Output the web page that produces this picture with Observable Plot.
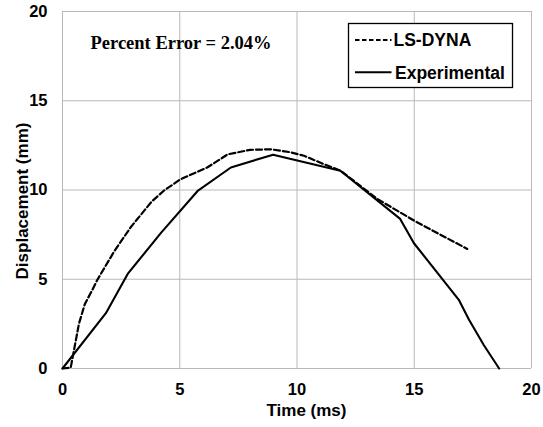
<!DOCTYPE html>
<html>
<head>
<meta charset="utf-8">
<script src="https://cdn.jsdelivr.net/npm/d3@7"></script>
<script src="https://cdn.jsdelivr.net/npm/@observablehq/plot@0.6"></script>
<style>
  html, body { margin: 0; padding: 0; background: #fff; }
  #wrap { position: relative; width: 543px; height: 427px; }
  #legend { position: absolute; left: 0; top: 0; pointer-events: none; }
</style>
</head>
<body>
<div id="wrap"></div>
<script>
// ---- data ----
const expTime = [0, 1.85, 2.78, 4.2, 5.78, 7.18, 8.98, 11.85, 14.4, 14.98, 16.9, 17.33, 17.97, 18.62];
const expDisp = [0, 3.1, 5.3, 7.6, 9.97, 11.26, 11.98, 11.08, 8.38, 7.03, 3.85, 2.75, 1.3, 0];

const dynaTime = [0, 0.35, 0.5, 0.7, 0.95, 1.27, 1.5, 2.2, 2.9, 3.8, 4.32, 5.03, 6.17, 7.05, 8.0, 8.9, 9.7, 10.3, 11.14, 11.86, 13.42, 15.12, 17.26];
const dynaDisp = [0, 0.05, 1.1, 2.5, 3.6, 4.4, 5.0, 6.55, 7.9, 9.35, 9.96, 10.6, 11.26, 12.0, 12.25, 12.28, 12.12, 11.92, 11.45, 11.08, 9.5, 8.19, 6.7];

const xTicks = [0, 5, 10, 15, 20];
const yTicks = [0, 5, 10, 15, 20];
const seriesNames = ["LS-DYNA", "Experimental"];
const xTitle = "Time (ms)";
const yTitle = "Displacement (mm)";
const note = "Percent Error = 2.04%";

const exp = expTime.map((t, i) => ({t, d: expDisp[i]}));
const dyna = dynaTime.map((t, i) => ({t, d: dynaDisp[i]}));

const sans = "'Liberation Sans', Arial, sans-serif";
const grid = "#b9b9b9";

const chart = Plot.plot({
  width: 543,
  height: 427,
  marginLeft: 62,
  marginRight: 12,
  marginTop: 11,
  marginBottom: 59,
  style: {fontFamily: sans, fontWeight: "bold", color: "#000", background: "#fff"},
  x: {domain: [0, 20]},
  y: {domain: [0, 20]},
  marks: [
    Plot.gridX(xTicks, {stroke: grid, strokeOpacity: 1, strokeWidth: 1}),
    Plot.gridY(yTicks, {stroke: grid, strokeOpacity: 1, strokeWidth: 1}),
    Plot.axisX(xTicks, {tickSize: 0, tickPadding: 15, fontSize: 16.5, fontWeight: "bold", label: null, tickFormat: d => String(d)}),
    Plot.axisY(yTicks, {tickSize: 0, tickPadding: 15, fontSize: 16.5, fontWeight: "bold", label: null, tickFormat: d => String(d)}),
    Plot.line(dyna, {x: "t", y: "d", stroke: "#000", strokeWidth: 2.2, strokeDasharray: "6,3", strokeLinejoin: "round", curve: "linear"}),
    Plot.line(exp, {x: "t", y: "d", stroke: "#000", strokeWidth: 2.1, strokeLinejoin: "round", curve: "linear"}),
    Plot.text([note], {frameAnchor: "top-left", textAnchor: "start", dx: 28, dy: 24.4, fontSize: 18.5, fontWeight: "bold", fontFamily: "'Liberation Serif', 'Times New Roman', serif", fill: "#000"})
  ]
});

const wrap = document.getElementById("wrap");
wrap.appendChild(chart);

// axis titles, placed relative to the plot's scales
const xs = chart.scale("x"), ys = chart.scale("y");
const xMid = (xs.range[0] + xs.range[1]) / 2;
const yMid = (ys.range[0] + ys.range[1]) / 2;
const yBottom = Math.max(...ys.range);
const xLeft = Math.min(...xs.range);
const svg = d3.select(chart);
svg.append("text")
  .attr("x", xMid + 10).attr("y", yBottom + 48)
  .attr("text-anchor", "middle")
  .attr("font-family", sans).attr("font-weight", "bold").attr("font-size", 17)
  .attr("fill", "#000")
  .text(xTitle);
svg.append("text")
  .attr("transform", `translate(${xLeft - 34},${yMid + 11.5}) rotate(-90)`)
  .attr("text-anchor", "middle")
  .attr("font-family", sans).attr("font-weight", "bold").attr("font-size", 17)
  .attr("fill", "#000")
  .text(yTitle);

// legend overlay
const lg = d3.select(wrap).append("svg")
  .attr("id", "legend")
  .attr("width", 543).attr("height", 427);
lg.append("rect")
  .attr("x", 348.5).attr("y", 23.5).attr("width", 164).attr("height", 64)
  .attr("fill", "#fff").attr("stroke", "#000").attr("stroke-width", 1.3);
const items = [
  {name: seriesNames[0], dash: "4.5,2.5", ly: 40, tx: 393.5, ty: 45.5},
  {name: seriesNames[1], dash: null, ly: 72.3, tx: 395, ty: 78.5}
];
items.forEach(it => {
  const l = lg.append("line")
    .attr("x1", 355).attr("x2", 391.5).attr("y1", it.ly).attr("y2", it.ly)
    .attr("stroke", "#000").attr("stroke-width", 2);
  if (it.dash) l.attr("stroke-dasharray", it.dash);
  lg.append("text")
    .attr("x", it.tx).attr("y", it.ty)
    .attr("font-family", sans).attr("font-weight", "bold").attr("font-size", 17.5)
    .attr("fill", "#000")
    .text(it.name);
});
</script>
</body>
</html>
